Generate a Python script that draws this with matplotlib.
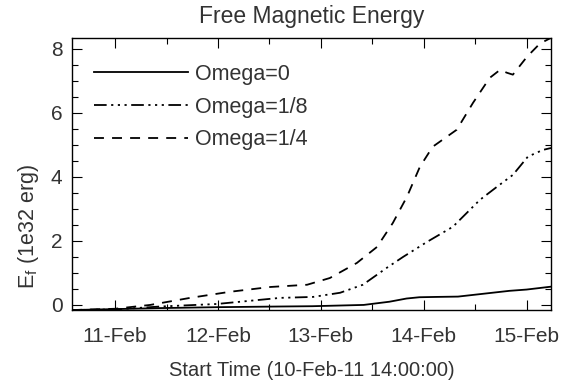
import matplotlib
matplotlib.use("Agg")
import matplotlib.pyplot as plt
from matplotlib.ticker import FixedLocator, MultipleLocator

plt.rcParams['font.family'] = ['Liberation Sans', 'DejaVu Sans']
TXT = '#333333'

# hours since 10-Feb-11 14:00:00
h_w0 = [0, 10, 20, 34, 48, 56, 62, 68, 74, 78, 81, 85, 90, 94, 98, 102, 106, 111.7]
e_w0 = [-0.16, -0.13, -0.1, -0.07, -0.05, -0.04, -0.02, 0.0, 0.1, 0.2, 0.24, 0.25, 0.26, 0.32, 0.38, 0.44, 0.48, 0.57]

h_w8 = [0, 10, 20.5, 33.8, 48.5, 56.2, 62.5, 67.8, 73.4, 77.2, 82.8, 88.8, 92.1, 95.1, 99.1, 102.8, 106.3, 109.8, 111.7]
e_w8 = [-0.16, -0.14, -0.05, 0.03, 0.22, 0.25, 0.38, 0.63, 1.16, 1.5, 1.97, 2.44, 2.88, 3.28, 3.69, 4.06, 4.63, 4.84, 4.9]

h_w4 = [0, 10, 18.2, 27.5, 36.8, 46.2, 54.8, 60.1, 66.4, 71.1, 74.8, 78.1, 81.1, 84.1, 89.7, 93.5, 97.4, 99.8, 101.4, 102.8, 106.1, 109.1, 111.7]
e_w4 = [-0.16, -0.12, 0.0, 0.22, 0.41, 0.56, 0.63, 0.84, 1.31, 1.81, 2.56, 3.38, 4.31, 4.94, 5.47, 6.31, 7.09, 7.34, 7.25, 7.19, 7.75, 8.16, 8.34]

labels = ['Omega=0', 'Omega=1/8', 'Omega=1/4']
day_ticks = [10, 34, 58, 82, 106]
day_labels = ['11-Feb', '12-Feb', '13-Feb', '14-Feb', '15-Feb']
minor_ticks = [22, 46, 70, 94]

fig = plt.figure(figsize=(5.64, 3.9), dpi=100)
ax = fig.add_axes([0.128, 0.205, 0.849, 0.698])

lw = 1.3
ax.plot(h_w0, e_w0, color='black', lw=lw, linestyle='-', label=labels[0])
ax.plot(h_w8, e_w8, color='black', lw=lw, linestyle=(0, (7, 2.5, 1.2, 2.5, 1.2, 2.5, 1.2, 2.5)), label=labels[1])
ax.plot(h_w4, e_w4, color='black', lw=lw, linestyle=(0, (5.5, 4.5)), label=labels[2])

ax.set_xlim(0, 111.7)
ax.set_ylim(-0.16, 8.34)

ax.xaxis.set_major_locator(FixedLocator(day_ticks))
ax.xaxis.set_minor_locator(FixedLocator(minor_ticks))
ax.set_xticklabels(day_labels)
ax.yaxis.set_major_locator(FixedLocator([0, 2, 4, 6, 8]))
ax.yaxis.set_minor_locator(MultipleLocator(0.5))

ax.tick_params(which='both', direction='in', top=True, right=True, width=0.8,
               labelsize=15, labelcolor=TXT, color='black')
ax.tick_params(which='major', length=7)
ax.tick_params(which='minor', length=4)
ax.tick_params(axis='x', which='major', pad=12)
ax.tick_params(axis='y', which='major', pad=7)
for s in ax.spines.values():
    s.set_linewidth(1.0)

ax.set_title('Free Magnetic Energy', fontsize=16.5, color=TXT, pad=11)
ax.set_xlabel('Start Time (10-Feb-11 14:00:00)', fontsize=14.5, color=TXT, labelpad=11)
fig.text(0.05, 0.42, r'E$_\mathregular{f}$ (1e32 erg)', rotation=90, ha='center', va='center',
         fontsize=15.5, color=TXT)

leg = ax.legend(loc='upper left', bbox_to_anchor=(0.046, 0.905), frameon=False, fontsize=15.5,
                handlelength=4.35, handletextpad=0.35, labelspacing=0.55, borderpad=0,
                borderaxespad=0)
for t in leg.get_texts():
    t.set_color(TXT)

fig.savefig('out.png', dpi=100)
